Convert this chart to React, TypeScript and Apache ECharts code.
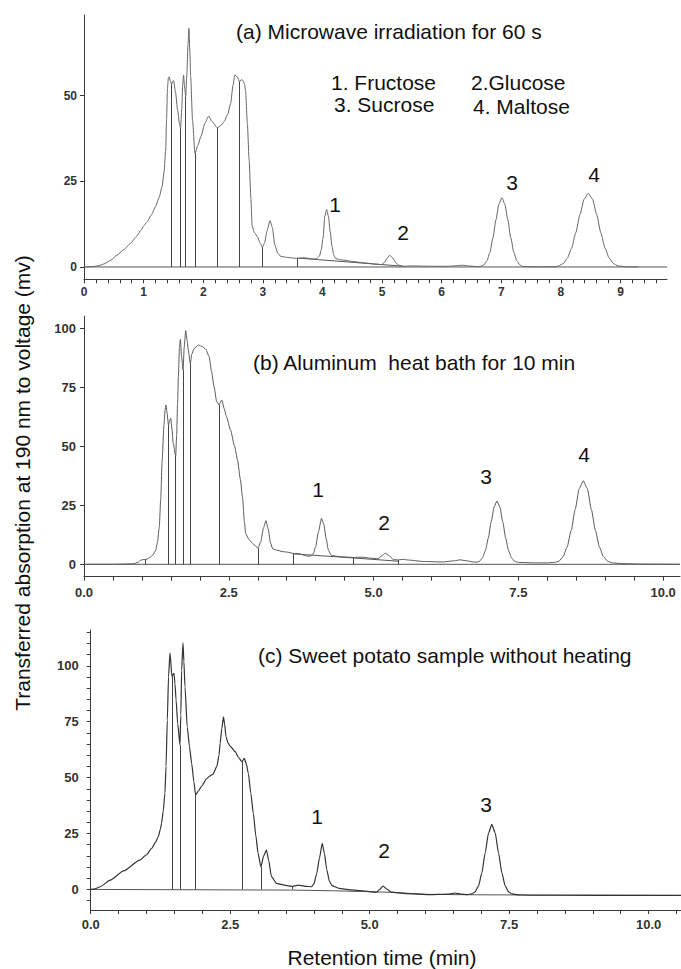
import React, { useEffect, useRef } from 'react';
import * as echarts from 'echarts';

type P = [number, number];

// ---------- Panel (a): Microwave irradiation for 60 s ----------
const curveA: P[] = [
  [0, 0], [0.15, 0.1], [0.25, 0.4], [0.34, 0.9], [0.45, 2.0], [0.56, 3.5], [0.67, 5.1], [0.78, 6.9],
  [0.88, 8.9], [0.96, 10.8], [1.0, 12.0], [1.06, 13.2], [1.13, 15.2], [1.2, 17.6], [1.26, 20.3],
  [1.31, 23.4], [1.345, 28], [1.37, 34], [1.385, 43], [1.4, 52], [1.415, 55], [1.43, 55.5],
  [1.45, 54.2], [1.47, 53.2], [1.49, 54.2], [1.505, 54.3], [1.535, 51], [1.57, 45.8], [1.6, 42],
  [1.62, 40.4], [1.64, 46], [1.655, 53], [1.67, 56], [1.69, 52], [1.706, 49.7], [1.725, 56],
  [1.745, 65], [1.76, 69.6], [1.775, 63], [1.79, 55.5], [1.82, 42.9], [1.862, 33.1], [1.91, 35.5],
  [1.96, 38], [2.03, 42], [2.09, 44], [2.15, 42.4], [2.237, 40.6], [2.3, 41.3], [2.35, 42.4],
  [2.41, 44.5], [2.46, 47.7], [2.5, 53], [2.53, 56], [2.57, 55.5], [2.61, 54], [2.635, 54.6],
  [2.66, 54.5], [2.69, 53.5], [2.71, 51.6], [2.74, 42], [2.77, 31.2], [2.8, 20], [2.82, 12],
  [2.86, 10], [2.91, 8.8], [2.96, 6.8], [2.99, 5.7], [3.03, 7], [3.07, 10.5], [3.12, 13.5],
  [3.16, 11.5], [3.2, 6.5], [3.25, 4], [3.3, 3.1], [3.4, 2.8], [3.5, 2.6], [3.58, 2.5], [3.65, 2.6],
  [3.7, 2.7], [3.77, 2.5], [3.84, 2.3], [3.9, 2.4], [3.95, 3.2], [3.98, 5], [4.01, 8.5], [4.04, 14.8],
  [4.07, 16.8], [4.1, 14.8], [4.13, 10.3], [4.16, 6], [4.19, 3.5], [4.22, 2.5], [4.27, 2.2],
  [4.35, 2.0], [4.5, 1.6], [4.7, 1.2], [4.9, 0.8], [4.99, 0.7], [5.04, 1.3], [5.08, 2.5], [5.13, 3.4],
  [5.18, 2.6], [5.23, 1.3], [5.28, 0.5], [5.35, 0.2], [5.5, 0.3], [5.8, 0.2], [6.1, 0.2], [6.25, 0.35],
  [6.35, 0.5], [6.45, 0.3], [6.6, 0.1], [6.66, 0.2], [6.71, 0.6], [6.76, 1.8], [6.81, 4.3], [6.86, 8.5],
  [6.91, 13.75], [6.96, 18.3], [7.01, 20.2], [7.06, 18.3], [7.11, 13.75], [7.16, 8.5], [7.21, 4.3],
  [7.26, 1.8], [7.31, 0.6], [7.36, 0.15], [7.5, 0.05], [7.9, 0.05], [7.96, 0.3], [8.04, 1.0],
  [8.11, 2.6], [8.18, 5.5], [8.25, 10.0], [8.32, 15.3], [8.39, 19.8], [8.46, 21.5], [8.53, 19.8],
  [8.6, 15.3], [8.67, 10.0], [8.74, 5.5], [8.81, 2.6], [8.88, 1.0], [8.96, 0.3], [9.1, 0.05], [9.3, 0],
];
const dropsA: P[] = [[1.47, 53.2], [1.62, 40.4], [1.706, 49.7], [1.862, 33.1], [2.237, 40.6], [2.61, 54], [2.99, 5.7], [3.58, 2.5]];
const baseA: P[] = [[0, 0], [9.78, 0]];
const slantA: P[] = [[3.58, 2.6], [5.36, 0.2]];
const xTicksA = [0, 1, 2, 3, 4, 5, 6, 7, 8, 9];
const yTicksA = [0, 25, 50];

// ---------- Panel (b): Aluminum heat bath for 10 min ----------
const curveB: P[] = [
  [0, 0], [0.5, 0], [0.85, 0.2], [0.93, 0.8], [0.98, 1.7], [1.02, 2.0], [1.05, 2.0], [1.09, 2.2],
  [1.14, 2.9], [1.19, 4.0], [1.24, 6], [1.27, 9.5], [1.3, 15.9], [1.325, 28], [1.35, 44.2], [1.38, 59],
  [1.4, 65.5], [1.416, 67.5], [1.435, 64], [1.457, 59], [1.48, 61], [1.497, 61.9], [1.52, 57],
  [1.54, 51.3], [1.583, 45.9], [1.6, 55], [1.615, 68], [1.63, 79.5], [1.648, 92], [1.664, 95.3],
  [1.685, 88], [1.71, 82.3], [1.73, 92], [1.756, 99], [1.78, 95], [1.8, 90.8], [1.836, 84.9],
  [1.86, 89], [1.9, 91.5], [1.975, 92.9], [2.04, 92.3], [2.1, 91.2], [2.16, 88], [2.2, 82],
  [2.245, 75.3], [2.29, 69], [2.33, 67.5], [2.38, 69.6], [2.42, 66], [2.46, 62.5], [2.53, 56.9],
  [2.6, 50], [2.65, 44.2], [2.7, 36], [2.735, 28.6], [2.77, 18], [2.79, 13.1], [2.84, 10.8],
  [2.88, 9.6], [2.95, 8], [3.005, 6.8], [3.05, 9.5], [3.1, 15.5], [3.14, 18.5], [3.18, 15], [3.22, 9],
  [3.26, 6.5], [3.33, 6.0], [3.42, 5.4], [3.5, 5.2], [3.62, 4.6], [3.68, 4.6], [3.75, 4.3], [3.82, 3.6],
  [3.9, 3.4], [3.96, 4.5], [4.0, 7.5], [4.05, 14], [4.1, 19.5], [4.14, 17], [4.18, 11], [4.22, 6],
  [4.27, 3.8], [4.36, 3.4], [4.5, 3.1], [4.65, 2.9], [4.8, 3.0], [4.94, 2.6], [5.08, 2.4], [5.14, 3.6],
  [5.2, 4.7], [5.26, 3.8], [5.34, 2.0], [5.43, 1.9], [5.51, 2.1], [5.6, 1.8], [5.86, 1.2], [6.2, 1.0],
  [6.4, 1.5], [6.49, 1.9], [6.6, 1.5], [6.72, 1.0], [6.78, 0.9], [6.83, 1.3], [6.88, 2.8], [6.93, 5.8],
  [6.98, 11.1], [7.03, 18], [7.08, 24.3], [7.13, 26.8], [7.18, 24.3], [7.23, 18], [7.28, 11.1],
  [7.33, 5.8], [7.38, 2.8], [7.43, 1.3], [7.5, 0.8], [7.8, 0.6], [8.0, 0.6], [8.12, 0.8], [8.2, 1.3],
  [8.27, 3.2], [8.34, 7.2], [8.41, 14.3], [8.48, 23.2], [8.55, 32.1], [8.62, 35.4], [8.69, 32.1],
  [8.76, 23.2], [8.83, 14.3], [8.9, 7.2], [8.97, 3.2], [9.04, 1.3], [9.12, 0.6], [9.3, 0.3], [9.6, 0.1],
  [10.29, 0],
];
const dropsB: P[] = [[1.05, 2.0], [1.457, 59], [1.583, 45.9], [1.71, 82.3], [1.836, 84.9], [2.33, 67.5], [3.005, 6.8], [3.62, 4.6], [4.65, 2.9], [5.43, 1.9]];
const baseB: P[] = [[0, 0], [10.29, 0]];
const slantB: P[] = [[3.62, 4.4], [4.65, 2.7], [5.43, 1.3]];
const xTicksB = [0, 2.5, 5, 7.5, 10];
const yTicksB = [0, 25, 50, 75, 100];

// ---------- Panel (c): Sweet potato sample without heating ----------
const curveC: P[] = [
  [0, 0], [0.08, 0.3], [0.17, 1.2], [0.35, 4.2], [0.59, 8.3], [0.88, 13.1], [1.0, 15.5], [1.09, 18.3],
  [1.16, 21], [1.21, 23.5], [1.25, 27], [1.27, 29.5], [1.3, 35], [1.33, 42.9], [1.35, 55], [1.373, 75.7],
  [1.395, 95], [1.421, 105.8], [1.457, 95.1], [1.47, 96], [1.493, 96.6], [1.51, 92], [1.53, 84.7],
  [1.56, 74], [1.6, 64.5], [1.615, 78], [1.63, 98], [1.654, 110.3], [1.67, 102], [1.69, 90.6],
  [1.73, 72.7], [1.77, 64], [1.81, 56.3], [1.85, 48], [1.88, 42.2], [1.93, 44], [1.99, 46.2],
  [2.08, 49.6], [2.14, 50.8], [2.19, 51.5], [2.26, 54.9], [2.3, 60], [2.32, 65.3], [2.35, 72],
  [2.38, 77.2], [2.4, 74], [2.425, 68.3], [2.46, 65.5], [2.5, 64.1], [2.59, 61.6], [2.65, 59],
  [2.71, 57.1], [2.753, 58.6], [2.79, 56], [2.825, 51.9], [2.87, 43], [2.915, 34], [2.96, 24],
  [3.0, 16.1], [3.05, 10.1], [3.1, 15], [3.15, 17.6], [3.19, 13], [3.24, 5.7], [3.33, 2.7], [3.45, 2.0],
  [3.54, 1.6], [3.62, 1.4], [3.7, 1.8], [3.75, 1.8], [3.85, 1.4], [3.96, 1.2], [4.0, 2.5], [4.05, 7],
  [4.1, 14], [4.15, 20.6], [4.19, 16], [4.23, 9], [4.28, 3.5], [4.33, 1.6], [4.45, 0.5], [4.65, -0.2],
  [4.88, -0.6], [5.12, -1.3], [5.18, 0], [5.24, 1.5], [5.3, 0.3], [5.39, -1.2], [5.66, -1.9],
  [6.08, -2.3], [6.4, -2.1], [6.53, -1.6], [6.65, -2.1], [6.75, -2.3], [6.83, -2.0], [6.89, -1.1],
  [6.95, 1.5], [7.01, 7.3], [7.07, 16.3], [7.13, 25.2], [7.19, 29.1], [7.25, 25.2], [7.31, 16.3],
  [7.37, 7.3], [7.43, 1.5], [7.49, -1.1], [7.55, -2.0], [7.65, -2.4], [7.9, -2.6], [8.5, -2.6],
  [9.5, -2.7], [10.58, -2.7],
];
const dropsC: P[] = [[1.47, 96], [1.6, 64.5], [1.88, 42.2], [2.71, 57.1], [3.05, 10.1], [3.62, 1.4]];
const baseC: P[] = [[0, 0], [3.62, -0.3], [4.35, -0.6], [5.4, -1.3], [6.0, -2.2], [6.9, -2.4], [10.58, -2.7]];
const xTicksC = [0, 2.5, 5, 7.5, 10];
const yTicksC = [0, 25, 50, 75, 100];

const FONT = "'Liberation Sans', Arial, Helvetica, sans-serif";
const AXIS = '#3a3a3a';

function steps(from: number, to: number, step: number, skip: number[]): number[] {
  const out: number[] = [];
  const n = Math.round((to - from) / step);
  for (let i = 0; i <= n; i++) {
    const v = Math.round((from + i * step) * 1000) / 1000;
    if (!skip.some((s) => Math.abs(s - v) < 1e-6)) out.push(v);
  }
  return out;
}

interface PanelCfg {
  grid: { left: number; top: number; width: number; height: number };
  xMax: number; yMin: number; yMax: number;
  xTicks: number[]; xMinor: number[]; yTicks: number[]; yMinor: number[];
  xFmt: (v: number) => string;
  xFont: number; yFont: number; xMargin: number; yMargin: number;
  curve: P[]; drops: P[]; base: P[]; slant: P[] | null;
  color: string; width: number;
}

const panels: PanelCfg[] = [
  {
    grid: { left: 84, top: 15, width: 583, height: 264.3 },
    xMax: 9.78, yMin: -3.6, yMax: 73.5,
    xTicks: xTicksA, xMinor: steps(0, 9.6, 0.2, xTicksA), yTicks: yTicksA, yMinor: [],
    xFmt: (v) => String(Math.round(v)), xFont: 12, yFont: 12, xMargin: 7, yMargin: 7,
    curve: curveA, drops: dropsA, base: baseA, slant: slantA, color: '#666', width: 1,
  },
  {
    grid: { left: 84, top: 316, width: 596, height: 260.7 },
    xMax: 10.29, yMin: -5.25, yMax: 105.2,
    xTicks: xTicksB, xMinor: steps(0, 10, 0.5, xTicksB), yTicks: yTicksB, yMinor: [],
    xFmt: (v) => v.toFixed(1), xFont: 13, yFont: 13, xMargin: 9, yMargin: 8,
    curve: curveB, drops: dropsB, base: baseB, slant: slantB, color: '#5a5a5a', width: 1,
  },
  {
    grid: { left: 90.7, top: 630, width: 590.3, height: 280 },
    xMax: 10.58, yMin: -9.2, yMax: 116,
    xTicks: xTicksC, xMinor: steps(0, 10.5, 0.5, xTicksC), yTicks: yTicksC, yMinor: steps(-5, 115, 5, yTicksC),
    xFmt: (v) => v.toFixed(1), xFont: 13, yFont: 13, xMargin: 8, yMargin: 12,
    curve: curveC, drops: dropsC, base: baseC, slant: null, color: '#333', width: 1.2,
  },
];

const panelTexts = [
  { text: '(a) Microwave irradiation for 60 s', x: 236, y: 31, align: 'left' },
  { text: '1. Fructose', x: 331, y: 82, align: 'left' },
  { text: '2.Glucose', x: 471, y: 82, align: 'left' },
  { text: '3. Sucrose', x: 334, y: 104, align: 'left' },
  { text: '4. Maltose', x: 473, y: 106, align: 'left' },
  { text: '1', x: 335, y: 204, align: 'center' },
  { text: '2', x: 403, y: 232, align: 'center' },
  { text: '3', x: 512, y: 182, align: 'center' },
  { text: '4', x: 594, y: 174, align: 'center' },
  { text: '(b) Aluminum  heat bath for 10 min', x: 253, y: 362, align: 'left' },
  { text: '1', x: 318, y: 489, align: 'center' },
  { text: '2', x: 384, y: 522, align: 'center' },
  { text: '3', x: 486, y: 476, align: 'center' },
  { text: '4', x: 584, y: 454, align: 'center' },
  { text: '(c) Sweet potato sample without heating', x: 258, y: 655, align: 'left' },
  { text: '1', x: 317, y: 816, align: 'center' },
  { text: '2', x: 384, y: 850, align: 'center' },
  { text: '3', x: 486, y: 804, align: 'center' },
];
const yTitle = 'Transferred absorption at 190 nm to voltage (mv)';
const xTitle = 'Retention time (min)';

function buildOption() {
  const grid: any[] = [];
  const xAxis: any[] = [];
  const yAxis: any[] = [];
  const series: any[] = [];
  panels.forEach((p, i) => {
    grid.push({ ...p.grid, containLabel: false });
    const xBase = {
      type: 'value', gridIndex: i, min: 0, max: p.xMax, position: 'bottom',
      splitLine: { show: false },
    };
    xAxis.push({
      ...xBase,
      axisLine: { show: true, onZero: false, lineStyle: { color: AXIS, width: 1 } },
      axisTick: { show: true, length: 4, customValues: p.xTicks, lineStyle: { color: AXIS } },
      axisLabel: {
        customValues: p.xTicks, formatter: (v: number) => p.xFmt(v), fontSize: p.xFont,
        fontWeight: 'bold', color: '#333', fontFamily: FONT, margin: p.xMargin,
      },
    });
    xAxis.push({
      ...xBase,
      axisLine: { show: false, onZero: false },
      axisTick: { show: true, length: 4, customValues: p.xMinor, lineStyle: { color: AXIS } },
      axisLabel: { show: false },
    });
    const yBase = {
      type: 'value', gridIndex: i, min: p.yMin, max: p.yMax, position: 'left',
      splitLine: { show: false },
    };
    yAxis.push({
      ...yBase,
      axisLine: { show: true, onZero: false, lineStyle: { color: AXIS, width: 1 } },
      axisTick: { show: true, length: 4, customValues: p.yTicks, lineStyle: { color: AXIS } },
      axisLabel: {
        customValues: p.yTicks, fontSize: p.yFont, fontWeight: 'bold', color: '#333',
        fontFamily: FONT, margin: p.yMargin,
      },
    });
    yAxis.push({
      ...yBase,
      axisLine: { show: false, onZero: false },
      axisTick: { show: p.yMinor.length > 0, length: 4, customValues: p.yMinor.length ? p.yMinor : [0], lineStyle: { color: AXIS } },
      axisLabel: { show: false },
    });
    const xi = 2 * i;
    const yi = 2 * i;
    series.push({
      type: 'line', xAxisIndex: xi, yAxisIndex: yi, data: p.base, showSymbol: false, silent: true,
      lineStyle: { color: '#555', width: 1 },
    });
    if (p.slant) {
      series.push({
        type: 'line', xAxisIndex: xi, yAxisIndex: yi, data: p.slant, showSymbol: false, silent: true,
        lineStyle: { color: '#555', width: 1 },
      });
    }
    series.push({
      type: 'line', xAxisIndex: xi, yAxisIndex: yi, data: p.curve, showSymbol: false, silent: true,
      smooth: 0.2, smoothMonotone: 'x',
      lineStyle: { color: p.color, width: p.width },
      markLine: {
        silent: true, symbol: ['none', 'none'], label: { show: false },
        lineStyle: { color: '#444', width: 1, type: 'solid' },
        data: p.drops.map(([t, v]) => [{ coord: [t, 0] }, { coord: [t, v] }]),
      },
    });
  });

  const graphic: any[] = panelTexts.map((t) => ({
    type: 'text', x: t.x, y: t.y, silent: true,
    style: { text: t.text, fontSize: 21, fontFamily: FONT, fill: '#111', align: t.align, verticalAlign: 'middle' },
  }));
  graphic.push({
    type: 'text', x: 22, y: 483, rotation: Math.PI / 2, silent: true,
    style: { text: yTitle, fontSize: 21, fontFamily: FONT, fill: '#111', align: 'center', verticalAlign: 'middle' },
  });
  graphic.push({
    type: 'text', x: 382, y: 957, silent: true,
    style: { text: xTitle, fontSize: 21, fontFamily: FONT, fill: '#111', align: 'center', verticalAlign: 'middle' },
  });

  return {
    animation: false,
    backgroundColor: '#ffffff',
    grid, xAxis, yAxis, series, graphic,
  };
}

export default function App() {
  const ref = useRef<HTMLDivElement>(null);
  useEffect(() => {
    if (!ref.current) return;
    const chart = echarts.init(ref.current, undefined, { renderer: 'svg' });
    chart.setOption(buildOption());
    return () => chart.dispose();
  }, []);
  return (
    <div
      ref={ref}
      style={{ position: 'absolute', left: 0, top: 0, width: 681, height: 969, background: '#fff' }}
    />
  );
}
